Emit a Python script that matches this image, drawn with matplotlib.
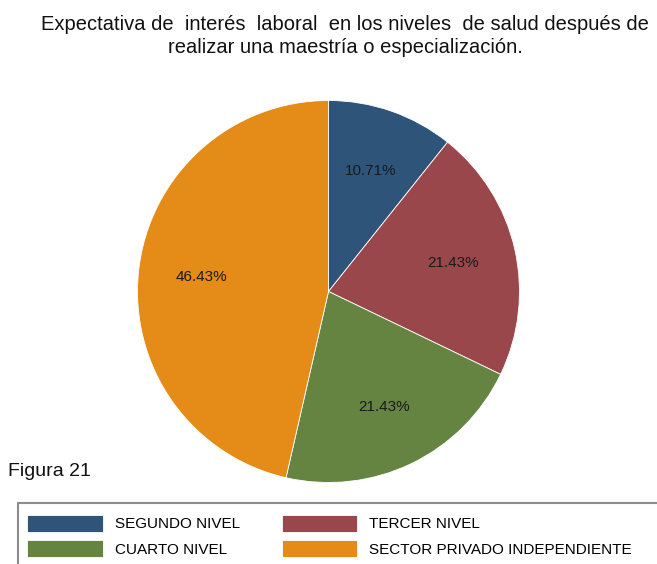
import matplotlib
matplotlib.use("Agg")
import matplotlib.pyplot as plt
from matplotlib.patches import Rectangle

plt.rcParams['font.family'] = ['Liberation Sans', 'DejaVu Sans']

categories = ["SEGUNDO NIVEL", "TERCER NIVEL", "CUARTO NIVEL", "SECTOR PRIVADO INDEPENDIENTE"]
values = [10.71, 21.43, 21.43, 46.43]
colors = ["#2f5479", "#9a474c", "#658441", "#e48b18"]
title = "Expectativa de  interés  laboral  en los niveles  de salud después de\nrealizar una maestría o especialización."

W, H = 657, 564
fig = plt.figure(figsize=(W / 100, H / 100), dpi=100)

# pie axes in pixel-derived coordinates
cx, cy, r = 328.5, 291.5, 191
ax = fig.add_axes([(cx - r) / W, 1 - (cy + r) / H, 2 * r / W, 2 * r / H])
wedges, texts, autotexts = ax.pie(
    values, colors=colors, startangle=90, counterclock=False,
    autopct="%.2f%%", pctdistance=0.67,
    wedgeprops=dict(edgecolor="white", linewidth=0.6),
    textprops=dict(fontsize=11, color="#1a1a1a"))
ax.set_aspect("equal")
ax.set_xlim(-1, 1)
ax.set_ylim(-1, 1)

fig.text(345 / W, 1 - 36 / H, title, ha="center", va="center",
         fontsize=14.5, linespacing=1.25, color="#111111")
fig.text(8 / W, 1 - 472 / H, "Figura 21", ha="left", va="center",
         fontsize=14, color="#111111")

# legend frame (extends beyond figure edge like the reference)
fig.patches.append(Rectangle((18 / W, -0.05), 1.0, (564 - 503) / H + 0.05,
                             transform=fig.transFigure, fill=False,
                             edgecolor="#8c8c8c", linewidth=1.5))
fs = 11
order = [0, 2, 1, 3]  # row-wise order as in the reference
leg = fig.legend([wedges[i] for i in order], [categories[i] for i in order],
                 ncol=2, frameon=False,
                 loc="upper left", bbox_to_anchor=(27 / W, 1 - 515 / H),
                 fontsize=fs, handlelength=4.95, handleheight=1.3,
                 handletextpad=0.78, columnspacing=2.75, labelspacing=0.55,
                 borderpad=0.0, borderaxespad=0.0)

fig.savefig("out.png", dpi=100)
